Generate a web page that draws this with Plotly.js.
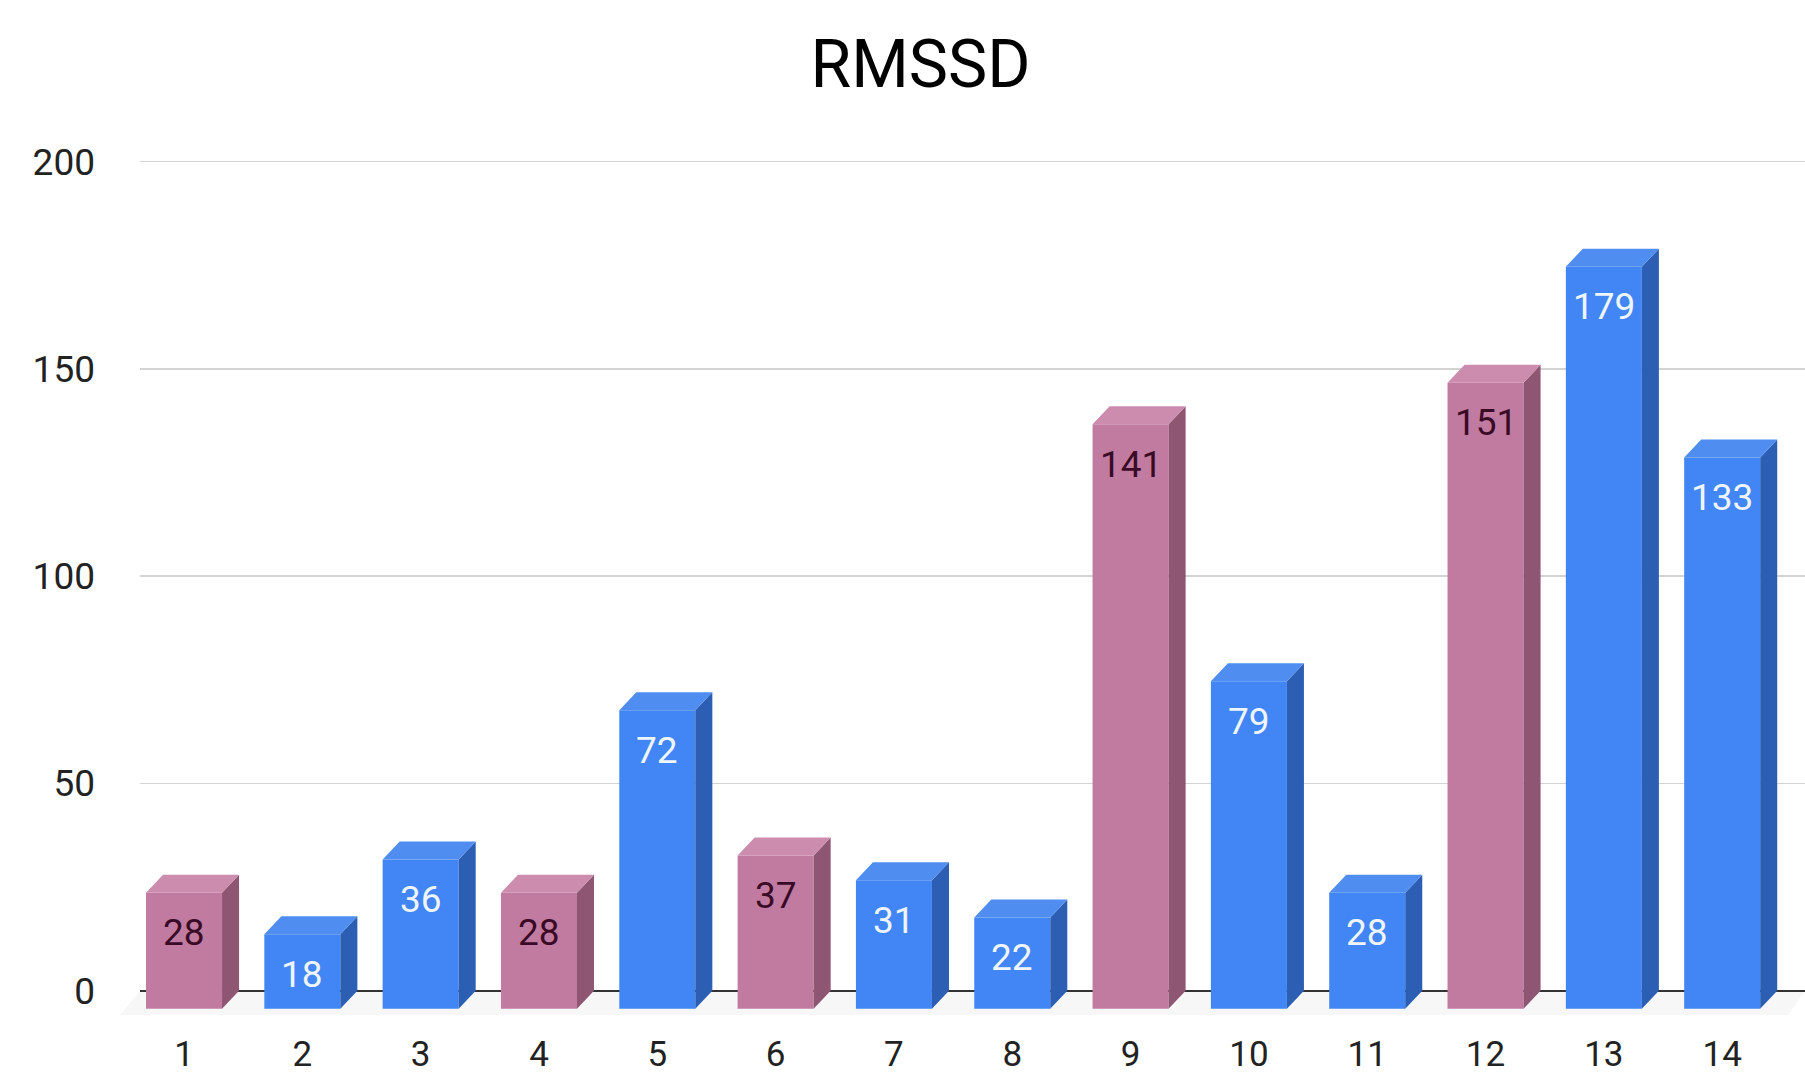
<!DOCTYPE html>
<html>
<head>
<meta charset="utf-8">
<script src="https://cdn.plot.ly/plotly-3.0.1.min.js"></script>
<style>
  html, body { margin: 0; padding: 0; background: #ffffff; }
  #chart { width: 1805px; height: 1075px; }
</style>
</head>
<body>
<div id="chart"></div>
<script>
// RMSSD per session, drawn as 3-D styled columns
const categories = ['1', '2', '3', '4', '5', '6', '7', '8', '9', '10', '11', '12', '13', '14'];
const rmssd = [28, 18, 36, 28, 72, 37, 31, 22, 141, 79, 28, 151, 179, 133];
const sessionGroup = ['A', 'B', 'B', 'A', 'B', 'A', 'B', 'B', 'A', 'B', 'B', 'A', 'B', 'B'];
const yTickValues = [0, 50, 100, 150, 200];
const yTickLabels = ['0', '50', '100', '150', '200'];

// Geometry of the extruded columns (axis units)
const BAR_W = 0.6425;   // front face width
const DEPTH_X = 0.144;  // extrusion to the right
const DEPTH_Y = 4.34;   // extrusion upward (front face sits this far below the back wall)

const palette = {
  A: { front: '#c27ba0', top: '#cc8cae', side: '#8f5674', text: '#3a0b27' },
  B: { front: '#4285f4', top: '#4f8ef0', side: '#2c5fb3', text: '#eef5ff' }
};

const xs = categories.map((_, i) => i + 1);

// Front faces: ordinary bars lowered by the extrusion depth
const frontTrace = {
  type: 'bar',
  x: xs,
  y: rmssd,
  base: rmssd.map(() => -DEPTH_Y),
  width: BAR_W,
  marker: { color: sessionGroup.map(g => palette[g].front), line: { width: 0 } },
  hoverinfo: 'skip',
  showlegend: false
};

// Top and side faces as filled polygons, one trace per group and face
function faceTrace(group, face) {
  const px = [], py = [];
  rmssd.forEach((v, i) => {
    if (sessionGroup[i] !== group) return;
    const c = xs[i];
    const l = c - BAR_W / 2, r = c + BAR_W / 2;
    if (face === 'top') {
      px.push(l, r, r + DEPTH_X, l + DEPTH_X, l, null);
      py.push(v - DEPTH_Y, v - DEPTH_Y, v, v, v - DEPTH_Y, null);
    } else {
      px.push(r, r + DEPTH_X, r + DEPTH_X, r, r, null);
      py.push(-DEPTH_Y, 0, v, v - DEPTH_Y, -DEPTH_Y, null);
    }
  });
  return {
    type: 'scatter',
    mode: 'lines',
    x: px,
    y: py,
    fill: 'toself',
    fillcolor: palette[group][face],
    line: { width: 0, color: palette[group][face] },
    hoverinfo: 'skip',
    showlegend: false
  };
}

const traces = [
  frontTrace,
  faceTrace('A', 'side'), faceTrace('B', 'side'),
  faceTrace('A', 'top'), faceTrace('B', 'top')
];

// Value labels inside the top of each front face
const valueLabels = rmssd.map((v, i) => ({
  x: xs[i],
  y: v - DEPTH_Y,
  xref: 'x',
  yref: 'y',
  text: String(v),
  showarrow: false,
  yanchor: 'middle',
  yshift: -40,
  font: { family: 'Roboto, Arial, sans-serif', size: 37, color: palette[sessionGroup[i]].text }
}));

const layout = {
  width: 1805,
  height: 1075,
  paper_bgcolor: '#ffffff',
  plot_bgcolor: '#ffffff',
  margin: { l: 140, r: 0, t: 145.4, b: 51, pad: 0 },
  title: {
    text: 'RMSSD',
    font: { family: 'Roboto, Arial, sans-serif', size: 66, color: '#000000' },
    x: 0.51,
    xref: 'container',
    xanchor: 'center',
    y: 1 - 64 / 1075,
    yref: 'container',
    yanchor: 'middle'
  },
  xaxis: {
    range: [0.628, 14.70],
    tickvals: xs,
    ticktext: categories,
    showgrid: false,
    zeroline: false,
    showline: false,
    ticks: '',
    ticklabelstandoff: 6,
    tickfont: { family: 'Roboto, Arial, sans-serif', size: 35, color: '#222222' },
    fixedrange: true
  },
  yaxis: {
    range: [-8, 204],
    tickvals: yTickValues,
    ticktext: yTickLabels,
    showgrid: true,
    gridcolor: '#d3d3d3',
    gridwidth: 1.5,
    zeroline: true,
    zerolinecolor: '#333333',
    zerolinewidth: 2,
    showline: false,
    ticks: '',
    ticklabelstandoff: 44,
    tickfont: { family: 'Roboto, Arial, sans-serif', size: 37, color: '#222222' },
    fixedrange: true
  },
  shapes: [
    {
      // faint floor under the columns
      type: 'path',
      xref: 'paper',
      yref: 'y',
      path: 'M 0,0 L 1,0 L 0.99,' + (-DEPTH_Y - 1.5) + ' L -0.012,' + (-DEPTH_Y - 1.5) + ' Z',
      fillcolor: 'rgba(0,0,0,0.03)',
      line: { width: 0 },
      layer: 'below'
    }
  ],
  annotations: valueLabels,
  bargap: 0.36,
  showlegend: false
};

Plotly.newPlot('chart', traces, layout, { staticPlot: true, displayModeBar: false });
</script>
</body>
</html>
